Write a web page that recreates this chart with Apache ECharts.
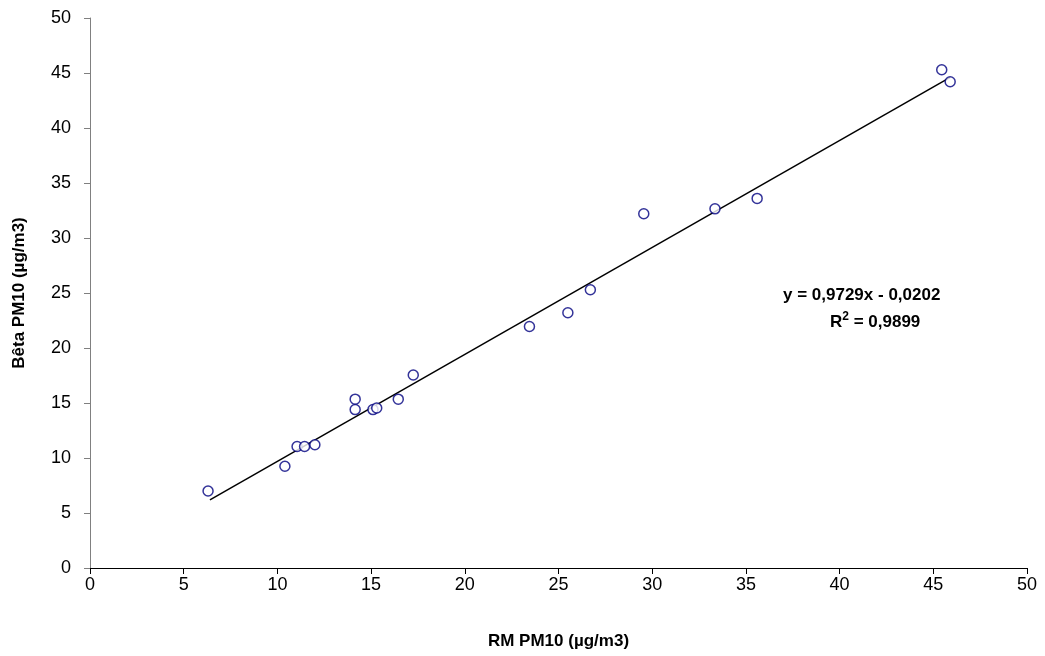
<!DOCTYPE html>
<html>
<head>
<meta charset="utf-8">
<script src="https://cdn.jsdelivr.net/npm/echarts@6/dist/echarts.min.js"></script>
<style>
  html, body { margin: 0; padding: 0; background: #fff; }
  #chartBox { width: 1045px; height: 656px; }
</style>
</head>
<body>
<div id="chartBox"></div>
<script>
  // valeurs
  var rmPM10 = [6.3, 10.4, 11.05, 11.45, 12.0, 14.15, 14.15, 15.1, 15.3, 16.45, 17.25, 23.45, 25.5, 26.7, 29.55, 33.35, 35.6, 45.45, 45.9];
  var betaPM10 = [7.0, 9.25, 11.05, 11.05, 11.2, 15.35, 14.4, 14.4, 14.55, 15.35, 17.55, 21.95, 23.2, 25.3, 32.2, 32.65, 33.6, 45.3, 44.2];
  // courbe de tendance (extrémités)
  var trendX = [6.4, 45.9];
  var trendY = [6.2, 44.6];
  var ticks = [0, 5, 10, 15, 20, 25, 30, 35, 40, 45, 50];
  var equation = 'y = 0,9729x - 0,0202';
  var r2Label = '0,9899';

  var points = [];
  for (var i = 0; i < rmPM10.length; i++) {
    points.push([rmPM10[i], betaPM10[i]]);
  }
  var trend = [];
  for (var j = 0; j < trendX.length; j++) {
    trend.push([trendX[j], trendY[j]]);
  }

  var chart = echarts.init(document.getElementById('chartBox'));

  var fontName = 'Liberation Sans, Arial';
  var axisText = { color: '#000', fontSize: 18, fontFamily: fontName };
  var titleText = { color: '#000', fontSize: 17, fontWeight: 'bold', fontFamily: fontName };

  var option = {
    animation: false,
    grid: { left: 90, right: 18, top: 18, bottom: 88, outerBoundsMode: 'none', containLabel: false },
    xAxis: {
      type: 'value',
      min: ticks[0],
      max: ticks[ticks.length - 1],
      interval: 5,
      name: 'RM PM10 (µg/m3)',
      nameLocation: 'middle',
      nameGap: 65,
      nameTextStyle: titleText,
      axisLine: { onZero: false, lineStyle: { color: '#000', width: 1 } },
      axisTick: { show: true, inside: false, length: 6, lineStyle: { color: '#000' } },
      axisLabel: Object.assign({ margin: 8 }, axisText),
      splitLine: { show: false }
    },
    yAxis: {
      type: 'value',
      min: ticks[0],
      max: ticks[ticks.length - 1],
      interval: 5,
      name: 'Bêta PM10 (µg/m3)',
      nameLocation: 'middle',
      nameGap: 62,
      nameTextStyle: titleText,
      axisLine: { show: true, onZero: false, lineStyle: { color: '#808080', width: 1 } },
      axisTick: { show: true, inside: false, length: 6, lineStyle: { color: '#808080' } },
      axisLabel: Object.assign({ margin: 19 }, axisText),
      splitLine: { show: false }
    },
    series: [
      {
        name: 'Tendance',
        type: 'line',
        data: trend,
        symbol: 'none',
        lineStyle: { color: '#000', width: 1.5 },
        z: 1
      },
      {
        name: 'Mesures',
        type: 'scatter',
        data: points,
        symbol: 'circle',
        symbolSize: 10,
        itemStyle: { color: '#fff', borderColor: '#000080', borderWidth: 1.5 },
        z: 2
      }
    ],
    graphic: [
      {
        type: 'text',
        left: 783,
        top: 287,
        style: { text: equation, fill: '#000', font: 'bold 17px Liberation Sans, Arial' }
      },
      {
        type: 'text',
        left: 830,
        top: 311,
        style: {
          text: '{b|R}{s|2}{b| = ' + r2Label + '}',
          rich: {
            b: { fill: '#000', font: 'bold 17px Liberation Sans, Arial', verticalAlign: 'bottom' },
            s: { fill: '#000', font: 'bold 12px Liberation Sans, Arial', verticalAlign: 'top', padding: [0, 0, 8, 0] }
          }
        }
      }
    ]
  };

  chart.setOption(option);
</script>
</body>
</html>
